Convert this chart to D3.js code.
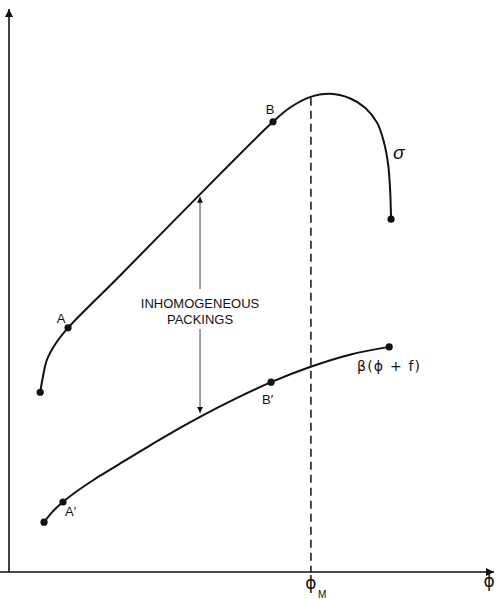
<!DOCTYPE html>
<html>
<head>
<meta charset="utf-8">
<script src="https://cdn.jsdelivr.net/npm/d3@7"></script>
<style>
  html, body { margin: 0; padding: 0; background: #fff; }
  svg { display: block; }
</style>
</head>
<body>
<div id="chart"></div>
<script>
// sigma curve (upper)
const sigmaPhi = [0.065, 0.071, 0.079, 0.098, 0.123, 0.231, 0.440, 0.550, 0.585, 0.627, 0.669, 0.710, 0.742, 0.767, 0.781, 0.790, 0.794, 0.796];
const sigmaVal = [0.321, 0.350, 0.379, 0.409, 0.436, 0.529, 0.711, 0.804, 0.829, 0.848, 0.854, 0.846, 0.829, 0.802, 0.768, 0.727, 0.682, 0.630];
const sigmaMarks = [0, 4, 7, 17]; // start, A, B, end

// beta(phi + f) curve (lower)
const betaPhi = [0.073, 0.090, 0.1125, 0.190, 0.246, 0.315, 0.398, 0.471, 0.546, 0.627, 0.710, 0.792];
const betaVal = [0.089, 0.107, 0.125, 0.172, 0.201, 0.237, 0.277, 0.309, 0.339, 0.366, 0.388, 0.402];
const betaMarks = [0, 2, 8, 11]; // start, A', B', end

const phiM = 0.629;
const gapPhi = 0.398;
const gapTop = 0.670;
const gapBottom = 0.284;

const width = 498;
const height = 599;

const x = d3.scaleLinear().domain([0, 1]).range([9, 489]);
const y = d3.scaleLinear().domain([0, 1]).range([572, 12]);

const svg = d3.select("#chart")
  .append("svg")
  .attr("width", width)
  .attr("height", height)
  .attr("viewBox", [0, 0, width, height]);

const ink = "#111";
const font = "'Liberation Sans', Arial, sans-serif";
const greek = "'DejaVu Sans', sans-serif";

// arrowheads
const defs = svg.append("defs");
defs.append("marker")
  .attr("id", "axisArrow")
  .attr("viewBox", "0 0 10 10")
  .attr("refX", 10).attr("refY", 5)
  .attr("markerWidth", 10).attr("markerHeight", 8)
  .attr("markerUnits", "userSpaceOnUse")
  .attr("orient", "auto")
  .append("path").attr("d", "M0,0L10,5L0,10z").attr("fill", ink);
defs.append("marker")
  .attr("id", "smallArrow")
  .attr("viewBox", "0 0 10 10")
  .attr("refX", 10).attr("refY", 5)
  .attr("markerWidth", 8).attr("markerHeight", 6)
  .attr("markerUnits", "userSpaceOnUse")
  .attr("orient", "auto")
  .append("path").attr("d", "M0,0L10,5L0,10z").attr("fill", ink);

// axes
svg.append("line")
  .attr("x1", 0).attr("y1", y(0))
  .attr("x2", 494).attr("y2", y(0))
  .attr("stroke", ink).attr("stroke-width", 1.6)
  .attr("marker-end", "url(#axisArrow)");
svg.append("line")
  .attr("x1", x(0)).attr("y1", y(0))
  .attr("x2", x(0)).attr("y2", 9)
  .attr("stroke", ink).attr("stroke-width", 1.6)
  .attr("marker-end", "url(#axisArrow)");

// phi_M dashed line
svg.append("line")
  .attr("x1", x(phiM)).attr("y1", y(0.847))
  .attr("x2", x(phiM)).attr("y2", y(0))
  .attr("stroke", ink).attr("stroke-width", 1.5)
  .attr("stroke-dasharray", "8,5");

const sigmaLine = d3.line()
  .x((d) => x(d[0]))
  .y((d) => y(d[1]))
  .curve(d3.curveCatmullRom.alpha(0.5));
const betaLine = d3.line()
  .x((d) => x(d[0]))
  .y((d) => y(d[1]))
  .curve(d3.curveMonotoneX);

const sigma = sigmaPhi.map((p, i) => [p, sigmaVal[i]]);
const beta = betaPhi.map((p, i) => [p, betaVal[i]]);

svg.append("path")
  .attr("d", sigmaLine(sigma))
  .attr("fill", "none")
  .attr("stroke", ink)
  .attr("stroke-width", 2);
svg.append("path")
  .attr("d", betaLine(beta))
  .attr("fill", "none")
  .attr("stroke", ink)
  .attr("stroke-width", 2);

// dots
const dots = sigmaMarks.map((i) => sigma[i]).concat(betaMarks.map((i) => beta[i]));
svg.append("g")
  .selectAll("circle")
  .data(dots)
  .join("circle")
  .attr("cx", (d) => x(d[0]))
  .attr("cy", (d) => y(d[1]))
  .attr("r", 3.6)
  .attr("fill", ink);

// inhomogeneous packings arrow (interrupted by text)
svg.append("line")
  .attr("x1", x(gapPhi)).attr("y1", 289)
  .attr("x2", x(gapPhi)).attr("y2", y(gapTop))
  .attr("stroke", "#444").attr("stroke-width", 1)
  .attr("marker-end", "url(#smallArrow)");
svg.append("line")
  .attr("x1", x(gapPhi)).attr("y1", 329)
  .attr("x2", x(gapPhi)).attr("y2", y(gapBottom))
  .attr("stroke", "#444").attr("stroke-width", 1)
  .attr("marker-end", "url(#smallArrow)");

const label = (tx, ty, txt, size, anchor, style) =>
  svg.append("text")
    .attr("x", tx).attr("y", ty)
    .attr("text-anchor", anchor || "start")
    .attr("font-family", font)
    .attr("font-size", size)
    .attr("font-style", style || "normal")
    .attr("fill", ink)
    .text(txt);

label(x(gapPhi), 307.5, "INHOMOGENEOUS", 13, "middle");
label(x(gapPhi), 323.5, "PACKINGS", 13, "middle");

label(270, 114, "B", 13, "middle");
label(61, 323, "A", 13, "middle");
label(262, 404, "B\u2032", 13);
label(65, 516, "A\u2032", 13);
label(393, 159, "\u03c3", 19, "start", "italic");
label(357, 371, "\u03b2(\u03d5 + f)", 16)
  .attr("font-family", greek)
  .attr("font-size", 14)
  .attr("letter-spacing", 1.2);

// axis labels
label(x(phiM), 589, "\u03d5", 17, "middle").attr("font-family", greek);
label(x(phiM) + 7, 598, "M", 10);
label(489, 587, "\u03d5", 17, "middle").attr("font-family", greek);
</script>
</body>
</html>
